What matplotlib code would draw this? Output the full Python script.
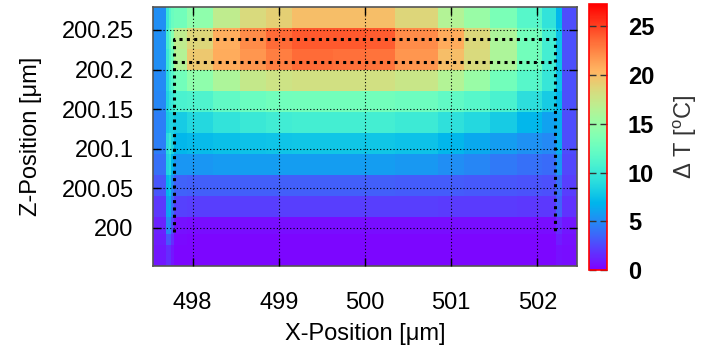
import numpy as np
import matplotlib.pyplot as plt

plt.rcParams['font.family'] = ['Liberation Sans', 'DejaVu Sans']
plt.rcParams['mathtext.fontset'] = 'custom'
plt.rcParams['mathtext.rm'] = 'Liberation Sans'

# Cell edges of the temperature map
x_edges = [497.54, 497.69, 497.72, 497.75, 497.78, 497.94, 498.24, 498.55, 498.85,
           499.15, 499.63, 500.0, 500.35, 500.85, 501.15, 501.45, 501.76, 502.05,
           502.22, 502.29, 502.46]
z_edges = [200.279, 200.252, 200.226, 200.200, 200.173, 200.147, 200.120, 200.094,
           200.067, 200.041, 200.014, 199.993, 199.978, 199.952]   # top -> bottom

# Delta T [C], one row per z cell (top row first)
dT = [
    [5.2, 10.0, 11.5, 12.5, 13.0, 14.5, 17.0, 18.4, 19.0, 20.0, 20.0, 20.0, 18.6, 16.4, 15.0, 13.4, 11.5, 9.5, 7.0, 2.7],
    [5.2, 10.5, 12.0, 14.0, 17.0, 18.6, 20.7, 22.2, 23.5, 24.2, 24.2, 24.0, 22.2, 20.8, 18.5, 16.0, 13.0, 10.5, 7.5, 2.8],
    [5.2, 10.0, 11.5, 13.0, 16.5, 19.5, 20.8, 21.8, 22.8, 23.5, 23.3, 23.2, 21.8, 20.0, 18.4, 16.0, 13.0, 10.5, 7.5, 2.8],
    [5.0, 9.0, 10.5, 11.5, 13.0, 14.5, 16.0, 17.3, 17.8, 18.0, 18.0, 18.0, 17.5, 16.4, 15.0, 13.0, 11.5, 9.8, 7.5, 2.8],
    [4.8, 8.5, 9.5, 10.0, 10.8, 11.0, 12.0, 12.5, 12.8, 13.0, 13.0, 13.0, 12.6, 12.0, 11.5, 10.8, 9.2, 8.0, 7.0, 2.8],
    [4.5, 8.0, 8.5, 8.5, 8.0, 8.8, 9.5, 10.0, 10.3, 10.5, 10.5, 10.5, 10.1, 9.3, 8.8, 8.0, 7.0, 6.0, 6.5, 2.7],
    [4.5, 9.0, 10.0, 8.5, 7.0, 7.2, 7.4, 7.5, 7.6, 7.7, 7.7, 7.7, 7.5, 7.0, 6.3, 5.8, 5.3, 5.0, 6.5, 2.7],
    [4.0, 8.5, 9.0, 7.0, 5.5, 5.5, 5.7, 5.8, 5.8, 5.8, 5.8, 5.8, 5.6, 5.2, 4.8, 4.3, 4.0, 3.8, 5.5, 2.5],
    [3.0, 7.0, 7.5, 5.0, 3.5, 3.4, 3.4, 3.4, 3.4, 3.4, 3.4, 3.4, 3.3, 3.2, 3.1, 3.0, 2.9, 2.8, 4.0, 2.2],
    [2.0, 6.0, 6.5, 4.0, 2.3, 2.2, 2.2, 2.2, 2.2, 2.2, 2.2, 2.2, 2.2, 2.1, 2.1, 2.1, 2.0, 2.0, 3.5, 1.8],
    [1.2, 5.0, 5.0, 2.5, 0.6, 0.5, 0.5, 0.5, 0.5, 0.5, 0.5, 0.5, 0.5, 0.5, 0.5, 0.5, 0.5, 0.5, 1.5, 0.8],
    [1.0, 3.0, 3.0, 1.5, 0.4, 0.3, 0.3, 0.3, 0.3, 0.3, 0.3, 0.3, 0.3, 0.3, 0.3, 0.3, 0.3, 0.3, 1.0, 0.6],
    [0.8, 1.5, 1.5, 0.8, 0.3, 0.3, 0.3, 0.3, 0.3, 0.3, 0.3, 0.3, 0.3, 0.3, 0.3, 0.3, 0.3, 0.3, 0.6, 0.5],
]

# Outline of the wire (dotted rectangle)
box_x = [497.78, 497.78, 502.21, 502.21]
box_z = [199.995, 200.238, 200.238, 199.995]
inner_z = 200.209

x_ticks = [498, 499, 500, 501, 502]
z_ticks = [200, 200.05, 200.1, 200.15, 200.2, 200.25]
z_ticklabels = ['200', '200.05', '200.1', '200.15', '200.2', '200.25']
cb_ticks = [0, 5, 10, 15, 20, 25]
vmin, vmax = 0, 27.3

fs = 17
fig = plt.figure(figsize=(7.1, 3.48), dpi=100)
ax = fig.add_axes([0.2155, 0.2356, 0.5972, 0.7443])
cax = fig.add_axes([0.8296, 0.2241, 0.0254, 0.7644])

mesh = ax.pcolormesh(x_edges, z_edges, np.array(dT), cmap='rainbow',
                     vmin=vmin, vmax=vmax, shading='flat', zorder=0)
ax.set_xlim(x_edges[0], x_edges[-1])
ax.set_ylim(z_edges[-1], z_edges[0])

ax.grid(True, color='k', linestyle=(0, (1, 2)), linewidth=0.8, zorder=1)
ax.set_axisbelow(False)

dot = (0, (1.0, 1.4))
ax.plot(box_x, box_z, color='k', linestyle=dot, linewidth=2.2, zorder=3)
ax.plot([box_x[0], box_x[-1]], [inner_z, inner_z], color='k', linestyle=dot,
        linewidth=2.2, zorder=3)

ax.set_xticks(x_ticks)
ax.set_yticks(z_ticks)
ax.set_yticklabels(z_ticklabels)
ax.tick_params(direction='in', length=6, width=1, top=True, right=True,
               labelsize=fs, color='k')
ax.tick_params(axis='x', pad=19)
ax.tick_params(axis='y', pad=14)
ax.set_xlabel('X-Position [μm]', fontsize=fs, labelpad=6)
ax.set_ylabel('Z-Position [μm]', fontsize=fs, labelpad=14)
for s in ax.spines.values():
    s.set_color('#555555')
    s.set_linewidth(1.2)

cb = fig.colorbar(mesh, cax=cax, ticks=cb_ticks)
cb.outline.set_edgecolor('red')
cb.outline.set_linewidth(1.2)
cax.tick_params(direction='in', length=5, width=1, left=True, right=True,
                color='#333333', labelsize=fs, pad=15)
for lab in cax.get_yticklabels():
    lab.set_fontweight('bold')
cb.set_label('$\\Delta$ T [$^{\\rm o}$C]', fontsize=fs, color='#333333', labelpad=12)

fig.savefig('out.png', dpi=100)
